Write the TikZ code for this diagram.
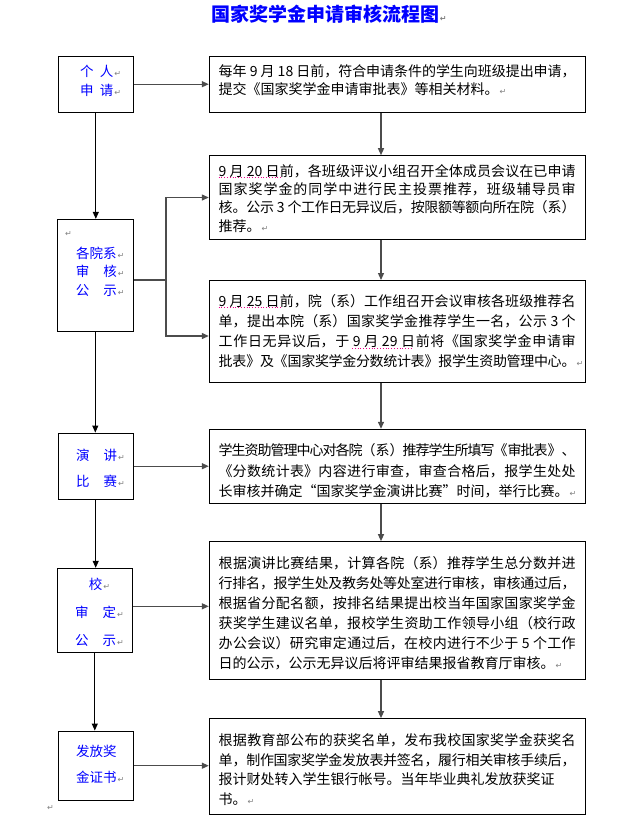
\documentclass[tikz,border=0pt]{standalone}
\usepackage{fontspec}
\newfontfamily\cjk{Noto Sans CJK SC}
\newfontfamily\symf{DejaVu Sans}
\usetikzlibrary{arrows.meta}
\XeTeXlinebreaklocale "zh"
\XeTeXlinebreakskip=0pt plus 2pt minus 1.5pt
\definecolor{wordblue}{RGB}{0,0,255}
\newcommand\pmk{{\symf\fontsize{8}{8}\selectfont\color{gray}↵}}
\newcommand\pmark{\rlap{\kern1pt\pmk}}
\tikzset{
  stagebox/.style={draw,line width=1pt,inner sep=0pt},
  stagetxt/.style={font=\cjk\fontsize{13.5}{#1}\selectfont,text=wordblue,align=center,inner sep=0pt},
  infobox/.style={draw,line width=1pt,inner sep=0pt,minimum width=376},
  infotxt/.style={font=\cjk\fontsize{14}{#1}\selectfont,text width=357,align=justify,anchor=base west,inner sep=0pt},
  flow/.style={line width=1pt,-{Triangle[length=7pt,width=6pt]}},
  feed/.style={line width=1.3pt,draw=black!70,-{Triangle[length=7pt,width=6pt]}},
}
\begin{document}
\begin{tikzpicture}[x=1pt,y=-1pt]
\fill[white](0,0)rectangle(644,820);
\useasboundingbox(0,0)rectangle(644,820);

%title
\node[font=\cjk\bfseries\fontsize{19}{19}\selectfont,text=wordblue,inner sep=0pt] (title) at (325,14.5) {国家奖学金申请审核流程图\pmark};

%stages (left)
\node[stagebox,minimum width=75,minimum height=56.3] (p1) at (95.8,84.2) {};
\node[stagebox,minimum width=76,minimum height=111.7] (p2) at (95.3,275.2) {};
\node[stagebox,minimum width=74.7,minimum height=66.3] (p3) at (95.7,466.2) {};
\node[stagebox,minimum width=75,minimum height=84] (p4) at (94.8,610.3) {};
\node[stagebox,minimum width=75,minimum height=69.3] (p5) at (95.8,765.7) {};

\node[stagetxt=18.3] (t1) at (96.7,80.9) {个\hspace{6.3pt}人\pmark\\申\hspace{6.3pt}请\pmark};
\node[anchor=west,inner sep=0pt] (t2m) at (65,234) {\pmk};
\node[stagetxt=18.3] (t2) at (96.4,271.7) {各院系\pmark\\审\hspace{14pt}核\pmark\\公\hspace{14pt}示\pmark};
\node[stagetxt=26.7] (t3) at (96.5,468.3) {演\hspace{14pt}讲\pmark\\比\hspace{14pt}赛\pmark};
\node[stagetxt=27.8] (t4) at (95.5,612.3) {校\pmark\\审\hspace{14pt}定\pmark\\公\hspace{14pt}示\pmark};
\node[stagetxt=26.7] (t5) at (96.4,764.3) {发放奖\\金证书\pmark};

%steps (right)
\node[infobox,minimum height=56.3] (s1) at (397.3,84.2) {};
\node[infobox,minimum height=83.6] (s2) at (397.3,197.5) {};
\node[infobox,minimum height=101.8] (s3) at (397.3,331.4) {};
\node[infobox,minimum height=74] (s4) at (397.3,466.3) {};
\node[infobox,minimum height=138.3] (s5) at (397.3,610.8) {};
\node[infobox,minimum height=96.3] (s6) at (397.3,766.8) {};

\node[infotxt=18.3] (d1) at (218.5,76.3) {每年 9 月 18 日前，符合申请条件的学生向班级提出申请，\linebreak 提交《国家奖学金申请审批表》等相关材料。\pmark};
\node[infotxt=18.4] (d2) at (218.5,176) {9 月 20 日前，各班级评议小组召开全体成员会议在已申请\linebreak 国家奖学金的同学中进行民主投票推荐，班级辅导员审\linebreak 核。公示 3 个工作日无异议后，按限额等额向所在院（系）\linebreak 推荐。\pmark};
\node[infotxt=20.2] (d3) at (218.5,306.3) {\parfillskip=0pt 9 月 25 日前，院（系）工作组召开会议审核各班级推荐名\linebreak 单，提出本院（系）国家奖学金推荐学生一名，公示 3 个\linebreak 工作日无异议后，于 9 月 29 日前将《国家奖学金申请审\linebreak 批表》及《国家奖学金分数统计表》报学生资助管理中心。\pmark};
\node[infotxt=20.8] (d4) at (218.5,455.3) {\parfillskip=0pt 学生资助管理中心对各院（系）推荐学生所填写《审批表》、\linebreak《分数统计表》内容进行审查，审查合格后，报学生处处\linebreak 长审核并确定“国家奖学金演讲比赛”时间，举行比赛。\pmark};
\node[infotxt=20.1] (d5) at (218.5,568) {根据演讲比赛结果，计算各院（系）推荐学生总分数并进\linebreak 行排名，报学生处及教务处等处室进行审核，审核通过后，\linebreak 根据省分配名额，按排名结果提出校当年国家国家奖学金\linebreak 获奖学生建议名单，报校学生资助工作领导小组（校行政\linebreak 办公会议）研究审定通过后，在校内进行不少于 5 个工作\linebreak 日的公示，公示无异议后将评审结果报省教育厅审核。\pmark};
\node[infotxt=19.8] (d6) at (218.5,745.3) {根据教育部公布的获奖名单，发布我校国家奖学金获奖名\linebreak 单，制作国家奖学金发放表并签名，履行相关审核手续后，\linebreak 报计财处转入学生银行帐号。当年毕业典礼发放获奖证\newline 书。\pmark};

%grammar marks
\draw[magenta,dotted,line width=0.8pt](218.5,177.5)--(281,177.5);
\draw[magenta,dotted,line width=0.8pt](218.5,307.8)--(281,307.8);
\draw[magenta,dotted,line width=0.8pt](352,348)--(411.5,348);
\node[anchor=west,inner sep=0pt] (endm) at (47,808) {\pmk};

%left column
\draw[flow](p1.south)--(p1.south|-p2.north);
\draw[flow](p2.south)--(p2.south|-p3.north);
\draw[flow](p3.south)--(p3.south|-p4.north);
\draw[flow](p4.south)--(p4.south|-p5.north);

%right column
\coordinate (axis) at (381,0);
\draw[feed](s1.south-|axis)--(s2.north-|axis);
\draw[feed](s2.south-|axis)--(s3.north-|axis);
\draw[feed](s3.south-|axis)--(s4.north-|axis);
\draw[feed](s4.south-|axis)--(s5.north-|axis);
\draw[feed](s5.south-|axis)--(s6.north-|axis);

%across
\coordinate (fork) at (166,280);
\coordinate (fork2) at (166,336);
\draw[feed](p1.east)--(p1.east-|s1.west);
\draw[feed,-](p2.east|-fork)--(fork);
\draw[feed](fork)|-(s2.west);
\draw[feed](fork)--(fork2)--(fork2-|s3.west);
\draw[feed](p3.east)--(p3.east-|s4.west);
\draw[feed]([yshift=4pt]p4.east)--([yshift=4pt]p4.east-|s5.west);
\draw[feed](p5.east)--(p5.east-|s6.west);
\end{tikzpicture}
\end{document}
